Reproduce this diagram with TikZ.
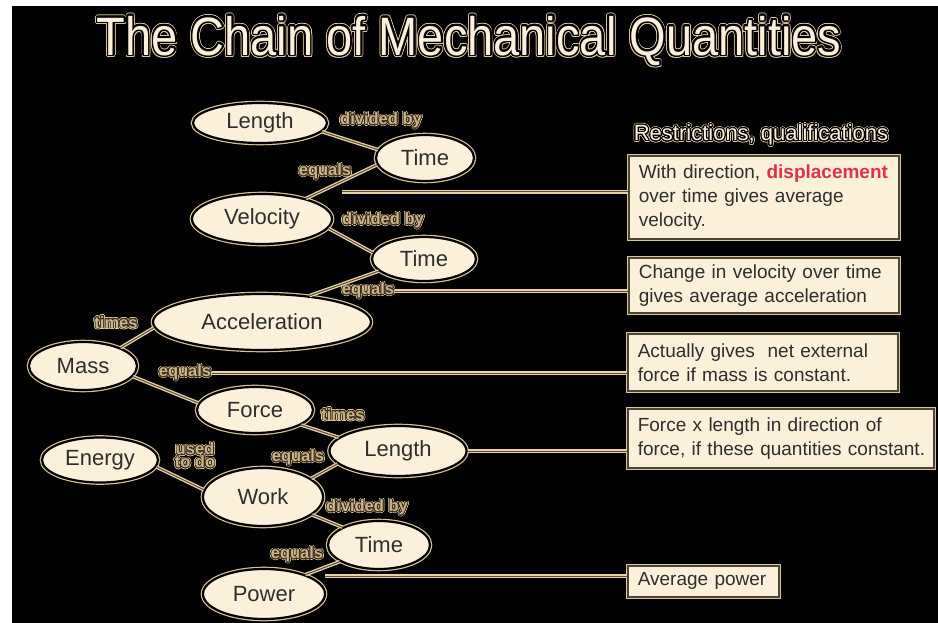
\documentclass[tikz,border=0pt]{standalone}
\usepackage{fontspec}
\setmainfont{Liberation Sans}
\usepackage[copies]{contour}
\contournumber{24}
\usetikzlibrary{shapes.geometric}
\definecolor{cream}{HTML}{FBF1DA}
\definecolor{halo}{HTML}{D8C49C}
\definecolor{txt}{HTML}{2E2E2E}
\definecolor{lblfill}{HTML}{C9B48C}
\definecolor{lbldark}{HTML}{3B2C1A}
\definecolor{redw}{HTML}{E0304A}
\definecolor{boxline}{HTML}{4E4434}
\definecolor{linecream}{HTML}{E6D3A8}
\definecolor{linedark}{HTML}{5A4A33}
% #1 halo width, #2 halo colour, #3 outline width, #4 outline colour, #5 fill colour, #6 text
\newcommand\myoutl[6]{\rlap{\contourlength{#1}\contour{#2}{#6}}{\contourlength{#3}\color{#5}\contour{#4}{#6}}}
\newcommand\lbltext[1]{\myoutl{1.5pt}{halo}{0.7pt}{lbldark}{lblfill}{#1}}
\tikzset{
  ell/.style={ellipse, fill=cream, draw=black, line width=2.2pt,
    preaction={draw=halo, line width=4.6pt}, text=txt,
    font=\fontsize{22}{24}\selectfont, inner sep=0pt},
  qbox/.style={rectangle, fill=cream, draw=boxline, line width=1.6pt,
    preaction={draw=halo, line width=3.6pt}, text=txt, anchor=north west,
    font=\fontsize{19}{24}\selectfont, align=left, inner xsep=10pt, inner ysep=0pt},
  lbl/.style={inner sep=0.5pt, font=\fontsize{16.5}{17}\bfseries, align=center},
  conn/.style={draw=linecream, line width=1.3pt, double=linedark, double distance=1pt},
}
\begin{document}
\begin{tikzpicture}[x=1pt,y=-1pt]
\fill[white] (0,0) rectangle (938,623);
\fill[black] (12,6) rectangle (938,623);
\useasboundingbox (0,0) rectangle (938,623);

% title
\node[font=\fontsize{47}{50}\selectfont] (title) at (469,42)
  {\scalebox{1}[1.15]{\myoutl{2.4pt}{halo}{1.5pt}{black}{cream}{The Chain of Mechanical Quantities}}};
\node[font=\fontsize{22}{24}\selectfont] (restr) at (761,136)
  {\myoutl{1.8pt}{halo}{1pt}{black}{cream}{Restrictions, qualifications}};

% quantities
\node[ell, minimum width=134pt, minimum height=40pt] (len1) at (260,123) {Length};
\node[ell, minimum width=98pt, minimum height=46pt] (tim1) at (425,158) {Time};
\node[ell, minimum width=140pt, minimum height=50pt] (vel) at (262,219) {Velocity};
\node[ell, minimum width=104pt, minimum height=44pt] (tim2) at (424,259) {Time};
\node[ell, minimum width=218pt, minimum height=56pt] (acc) at (262,322) {Acceleration};
\node[ell, minimum width=108pt, minimum height=48pt] (mass) at (83,366) {Mass};
\node[ell, minimum width=116pt, minimum height=46pt] (force) at (255,410) {Force};
\node[ell, minimum width=137pt, minimum height=50pt] (len2) at (398,451) {Length};
\node[ell, minimum width=116pt, minimum height=45pt] (energy) at (100,460) {Energy};
\node[ell, minimum width=120pt, minimum height=58pt] (work) at (263,497) {Work};
\node[ell, minimum width=102pt, minimum height=48pt] (tim3) at (379,545) {Time};
\node[ell, minimum width=122pt, minimum height=50pt] (power) at (264,594) {Power};

% connector labels
\node[lbl] (l1) at (381,121) {\lbltext{divided by}};
\node[lbl] (l2) at (325,172) {\lbltext{equals}};
\node[lbl] (l3) at (383,221) {\lbltext{divided by}};
\node[lbl] (l4) at (368,291) {\lbltext{equals}};
\node[lbl] (l5) at (116,323) {\lbltext{times}};
\node[lbl] (l6) at (185,373) {\lbltext{equals}};
\node[lbl] (l7) at (343,415) {\lbltext{times}};
\node[lbl] (l8) at (195,456) {\lbltext{used}\\[-4pt]\lbltext{to do}};
\node[lbl] (l9) at (298,458) {\lbltext{equals}};
\node[lbl] (l10) at (367,508) {\lbltext{divided by}};
\node[lbl] (l11) at (297,555) {\lbltext{equals}};

% connectors
\draw[conn] (len1.-8) -- (tim1.170);
\draw[conn] (tim1.188) -- (vel.25);
\draw[conn] (vel.-8) -- (tim2.173);
\draw[conn] (tim2.195) -- (acc.29);
\draw[conn] (acc.183) -- (mass.26);
\draw[conn] (mass.-12) -- (force.173);
\draw[conn] (force.-18) -- (len2.167);
\draw[conn] (len2.192) -- (work.21);
\draw[conn] (energy.-7) -- (work.173);
\draw[conn] (work.-20) -- (tim3.154);
\draw[conn] (tim3.203) -- (power.25);

% qualification boxes
\node[qbox, minimum width=270pt, minimum height=83pt, text width=250pt] (box1) at (628,155)
  {\mbox{With direction, \textcolor{redw}{\bfseries displacement}}\\\mbox{over time gives average}\\\mbox{velocity.}};
\node[qbox, minimum width=270pt, minimum height=55pt, text width=250pt] (box2) at (628,257)
  {\mbox{Change in velocity over time}\\\mbox{gives average acceleration}};
\node[qbox, minimum width=270pt, minimum height=57pt, text width=250pt] (box3) at (627,333)
  {\mbox{Actually gives\ \ net external}\\\mbox{force if mass is constant.}};
\node[qbox, minimum width=306pt, minimum height=59pt, text width=286pt] (box4) at (627,408)
  {\mbox{Force x length in direction of}\\\mbox{force, if these quantities constant.}};
\node[qbox, minimum width=151pt, minimum height=31pt, text width=131pt] (box5) at (627,565)
  {\mbox{Average power}};

% leaders
\coordinate (c1) at (342,192);
\coordinate (c5) at (325,576);
\draw[conn] (c1) -- (c1 -| box1.west);
\draw[conn] (l4.east) -- (l4.east -| box2.west);
\draw[conn] (l6.east) -- (l6.east -| box3.west);
\draw[conn] (len2.east) -- (len2.east -| box4.west);
\draw[conn] (c5) -- (c5 -| box5.west);
\end{tikzpicture}
\end{document}
